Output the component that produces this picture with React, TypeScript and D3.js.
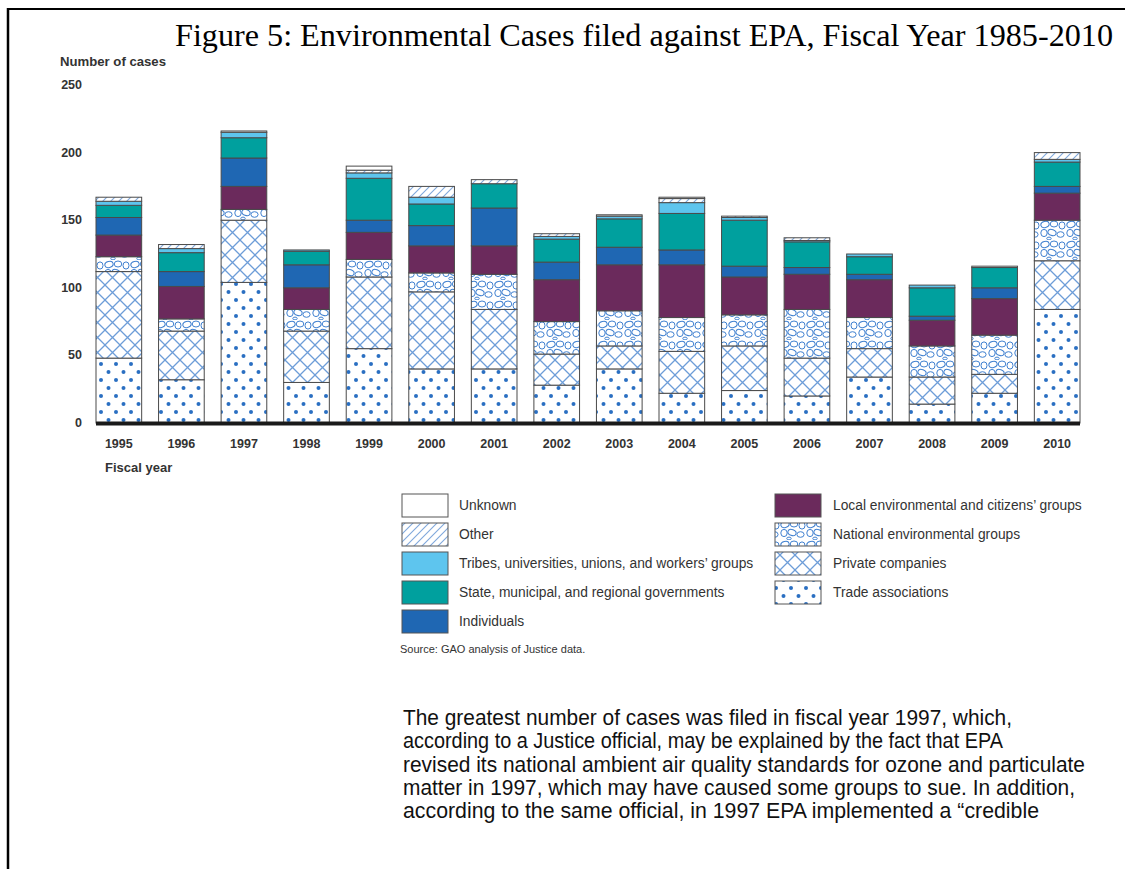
import * as d3 from 'd3';

const years = ['1995', '1996', '1997', '1998', '1999', '2000', '2001', '2002', '2003', '2004', '2005', '2006', '2007', '2008', '2009', '2010'];

// cases per group, bottom of the stack first
const trade = [48, 32, 104, 30, 55, 40, 40, 28, 40, 22, 24, 20, 34, 14, 22, 84];
const privateCos = [64, 36, 46, 38, 53, 57, 44, 23, 17, 31, 33, 28, 21, 20, 14, 36];
const national = [11, 9, 8, 16, 13, 14, 26, 24, 26, 25, 23, 36, 23, 23, 29, 30];
const local = [16, 24, 17, 16, 20, 20, 21, 31, 34, 39, 28, 26, 28, 19, 27, 20];
const individuals = [13, 11, 21, 17, 9, 15, 28, 13, 13, 11, 8, 5, 4, 3, 8, 5];
const state = [9, 14, 15, 10, 31, 16, 18, 17, 21, 27, 34, 19, 13, 21, 15, 18];
const tribes = [3, 3, 4, 1, 4, 5, 0, 2, 2, 8, 2, 1, 2, 2, 0, 2];
const other = [3, 3, 0, 0, 2, 8, 3, 2, 0, 3, 1, 2, 0, 0, 0, 5];
const unknown = [0, 0, 1, 0, 3, 0, 0, 0, 1, 1, 0, 0, 0, 0, 1, 0];

const yTicks = [0, 50, 100, 150, 200, 250];

const seriesKeys = ['trade', 'private', 'national', 'local', 'individuals', 'state', 'tribes', 'other', 'unknown'];
const seriesLabels: Record<string, string> = {
  unknown: 'Unknown',
  other: 'Other',
  tribes: 'Tribes, universities, unions, and workers\u2019  groups',
  state: 'State, municipal, and regional governments',
  individuals: 'Individuals',
  local: 'Local environmental and citizens\u2019 groups',
  national: 'National environmental groups',
  private: 'Private companies',
  trade: 'Trade associations',
};
const legendLeft = ['unknown', 'other', 'tribes', 'state', 'individuals'];
const legendRight = ['local', 'national', 'private', 'trade'];

const paragraph = [
  'The greatest number of cases was filed in fiscal year 1997, which,',
  'according to a Justice official, may be explained by the fact that EPA',
  'revised its national ambient air quality standards for ozone and particulate',
  'matter in 1997, which may have caused some groups to sue. In addition,',
  'according to the same official, in 1997 EPA implemented a \u201Ccredible',
];
// rendered width of each paragraph line in the page
const paragraphWidths = [609, 600, 682, 672, 636];

const FILLS: Record<string, string> = {
  trade: 'url(#dots)',
  private: 'url(#cross)',
  national: 'url(#blobs)',
  local: '#6b2a5c',
  individuals: '#1f67b3',
  state: '#00a09e',
  tribes: '#5ec5ee',
  other: 'url(#hatch)',
  unknown: '#ffffff',
};

const App = () => {
  const width = 1125;
  const height = 869;

  const rows = years.map((year, i) => ({
    year,
    trade: trade[i],
    private: privateCos[i],
    national: national[i],
    local: local[i],
    individuals: individuals[i],
    state: state[i],
    tribes: tribes[i],
    other: other[i],
    unknown: unknown[i],
  }));

  const stacked = d3.stack<any>().keys(seriesKeys)(rows);

  const x = d3.scaleBand().domain(years).range([96, 1080]).paddingInner(0.27).paddingOuter(0);
  const y = d3.scaleLinear().domain([0, 250]).range([423, 85]);

  const textColor = '#333';
  const sans = '"Liberation Sans", Arial, sans-serif';

  const legendRow = (key: string, i: number, bx: number, tx: number) => {
    const top = 494 + i * 29;
    return (
      <g key={key}>
        <rect x={bx} y={top} width={46} height={23} fill={FILLS[key]} stroke="#555" strokeWidth={1} />
        <text x={tx} y={top + 16} fontFamily={sans} fontSize={13.8} fill={textColor}>{seriesLabels[key]}</text>
      </g>
    );
  };

  return (
    <svg width={width} height={height} style={{ position: 'absolute', left: 0, top: 0, display: 'block', background: '#fff' }}>
      <defs>
        <pattern id="dots" width={15} height={16} patternUnits="userSpaceOnUse">
          <rect width={15} height={16} fill="#fff" />
          <circle cx={3.5} cy={4} r={2} fill="#2a6fc2" />
          <circle cx={11} cy={12} r={2} fill="#2a6fc2" />
        </pattern>
        <pattern id="cross" width={15} height={15} patternUnits="userSpaceOnUse">
          <rect width={15} height={15} fill="#fff" />
          <path d="M0,0L15,15M15,0L0,15" stroke="#6d9dd8" strokeWidth={1.3} />
        </pattern>
        <pattern id="hatch" width={8} height={8} patternUnits="userSpaceOnUse">
          <rect width={8} height={8} fill="#fff" />
          <path d="M-2,2L2,-2M0,8L8,0M6,10L10,6" stroke="#7fa8dc" strokeWidth={1.1} />
        </pattern>
        <pattern id="blobs" width={26} height={20} patternUnits="userSpaceOnUse">
          <rect width={26} height={20} fill="#fff" />
          <g fill="#fff" stroke="#3f80d0" strokeWidth={1}>
            <ellipse cx={5} cy={4.5} rx={4.2} ry={3} transform="rotate(-15 5 4.5)" />
            <ellipse cx={14} cy={4} rx={3.8} ry={3} />
            <ellipse cx={22} cy={5.5} rx={3} ry={3.6} />
            <ellipse cx={4} cy={13} rx={3.2} ry={3.6} />
            <ellipse cx={12} cy={12.5} rx={4.2} ry={3} transform="rotate(20 12 12.5)" />
            <ellipse cx={20.5} cy={14.5} rx={3.6} ry={2.8} />
            <ellipse cx={9} cy={18.5} rx={2.2} ry={1.4} />
          </g>
        </pattern>
      </defs>

      {/* page frame */}
      <line x1={8} y1={9} x2={width} y2={9} stroke="#000" strokeWidth={2} />
      <line x1={8} y1={8} x2={8} y2={height} stroke="#000" strokeWidth={2.5} />

      <text x={175} y={46} fontFamily='"Liberation Serif", "Times New Roman", serif' fontSize={32} textLength={938} lengthAdjust="spacingAndGlyphs" fill="#000">
        Figure 5: Environmental Cases filed against EPA, Fiscal Year 1985-2010
      </text>

      <text x={60} y={66} fontFamily={sans} fontSize={12.5} fontWeight="bold" fill={textColor} textLength={106} lengthAdjust="spacingAndGlyphs">Number of cases</text>

      {yTicks.map(t => (
        <text key={t} x={82} y={y(t) + 4} textAnchor="end" fontFamily={sans} fontSize={12.5} fontWeight="bold" fill={textColor}>{t}</text>
      ))}

      {stacked.map(layer => (
        <g key={layer.key}>
          {layer.map((d, i) => {
            const v = d[1] - d[0];
            if (v <= 0) return null;
            return (
              <rect
                key={years[i]}
                x={x(years[i])}
                y={y(d[1])}
                width={x.bandwidth()}
                height={y(d[0]) - y(d[1])}
                fill={FILLS[layer.key]}
                stroke="#4a4a4a"
                strokeWidth={1}
              />
            );
          })}
        </g>
      ))}

      {/* baseline */}
      <line x1={96} x2={1080} y1={y(0) + 0.5} y2={y(0) + 0.5} stroke="#1a1a1a" strokeWidth={4} />

      {years.map(yr => (
        <text key={yr} x={(x(yr) as number) + x.bandwidth() / 2} y={448} textAnchor="middle" fontFamily={sans} fontSize={12.5} fontWeight="bold" fill={textColor}>{yr}</text>
      ))}
      <text x={105} y={472} fontFamily={sans} fontSize={13} fontWeight="bold" fill={textColor}>Fiscal year</text>

      {legendLeft.map((k, i) => legendRow(k, i, 402, 459))}
      {legendRight.map((k, i) => legendRow(k, i, 775, 833))}

      <text x={400} y={653} fontFamily={sans} fontSize={11} fill={textColor}>Source: GAO analysis of Justice data.</text>

      {paragraph.map((line, i) => (
        <text key={i} x={403} y={725 + i * 23.3} fontFamily={sans} fontSize={21.5} fill="#111" textLength={paragraphWidths[i]} lengthAdjust="spacingAndGlyphs">{line}</text>
      ))}
    </svg>
  );
};

export default App;
